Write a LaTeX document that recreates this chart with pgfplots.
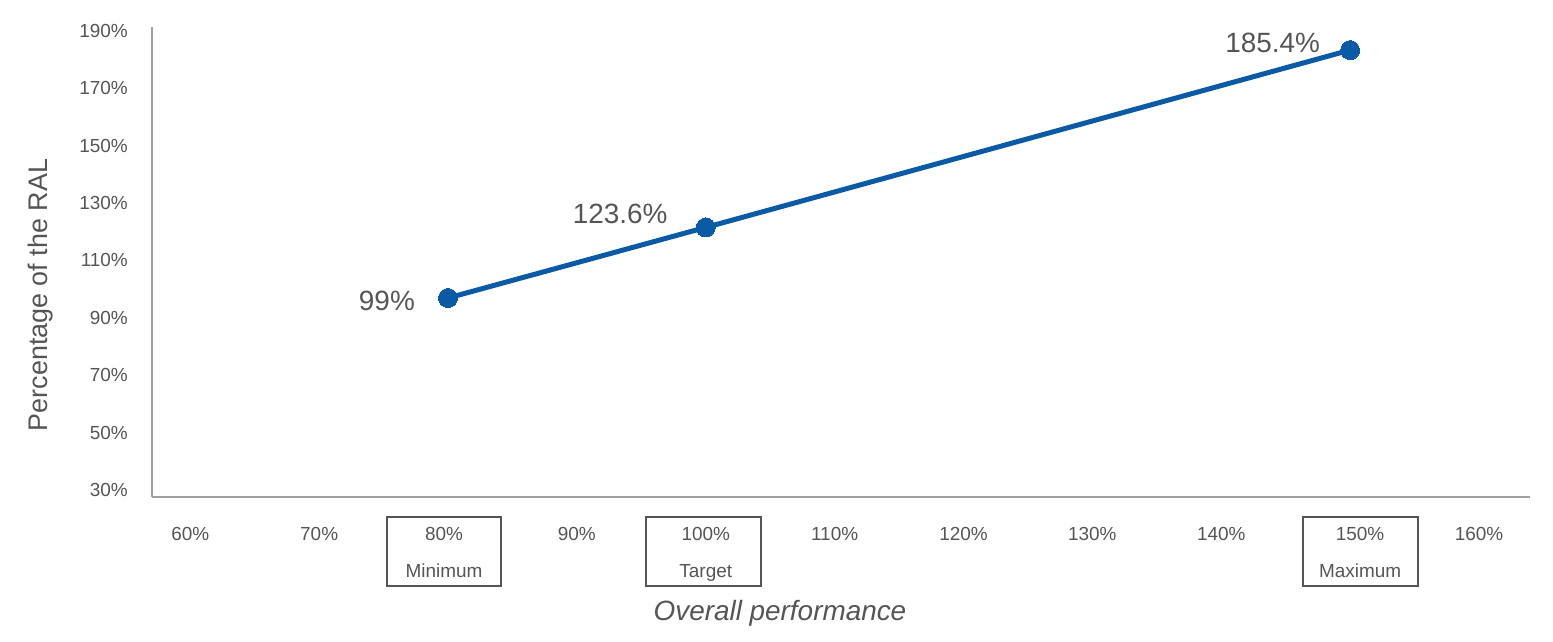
\documentclass[border=0pt]{standalone}
\usepackage{pgfplots}
\pgfplotsset{compat=1.18}
\usepackage{fontspec}
\setmainfont{Liberation Sans}
\definecolor{lineblue}{HTML}{0B5AA5}
\definecolor{axgray}{HTML}{A0A0A0}
\definecolor{txtgray}{HTML}{555555}
\definecolor{boxgray}{HTML}{555555}
\begin{document}
\begin{tikzpicture}
\useasboundingbox (0,0) rectangle (1553bp,642bp);
\begin{axis}[
  at={(152bp,145bp)}, anchor=south west,
  scale only axis, width=1378bp, height=470bp,
  xmin=57.03, xmax=163.96, ymin=29.65, ymax=193.45,
  axis lines=left, axis line style={-, axgray, line width=1.5bp},
  major tick length=0pt,
  clip=false,
  xtick={60,70,...,160},
  xticklabels={60\%,70\%,{\hspace*{-8bp}80\%\\\hspace*{-8bp}Minimum},90\%,{100\%\\Target},110\%,120\%,130\%,140\%,{\hspace*{20bp}150\%\\\hspace*{20bp}Maximum},160\%},
  ytick={30,50,...,190},
  yticklabels={30\%,50\%,70\%,90\%,110\%,130\%,150\%,170\%,190\%},
  xticklabel style={font=\fontsize{19}{37}\selectfont, text=txtgray, align=center, anchor=north, inner sep=0pt, yshift=-30bp},
  yticklabel style={font=\fontsize{19}{23}\selectfont, text=txtgray, anchor=east, inner sep=0pt, xshift=-24bp, yshift=6bp},
]
\addplot[lineblue, line width=5bp, mark=*, mark size=9.5bp, mark options={fill=lineblue, draw=lineblue, line width=0pt}]
  coordinates {(80,99) (100,123.6) (150,185.4)};

\node[anchor=east, inner sep=0pt, font=\fontsize{28}{32}\selectfont, text=txtgray, xshift=-33bp, yshift=-3bp] at (axis cs:80,99) {99\%};
\node[anchor=east, inner sep=0pt, font=\fontsize{28}{32}\selectfont, text=txtgray, xshift=-38bp, yshift=14bp] at (axis cs:100,123.6) {123.6\%};
\node[anchor=east, inner sep=0pt, font=\fontsize{28}{32}\selectfont, text=txtgray, xshift=-30bp, yshift=7bp] at (axis cs:150,185.4) {185.4\%};

\draw[boxgray, line width=1.5bp] (axis cs:80,29.65) ++(-61bp,-20bp) rectangle ++(114bp,-69bp);
\draw[boxgray, line width=1.5bp] (axis cs:100,29.65) ++(-60bp,-20bp) rectangle ++(115bp,-69bp);
\draw[boxgray, line width=1.5bp] (axis cs:150,29.65) ++(-47bp,-20bp) rectangle ++(115bp,-69bp);

\node[anchor=base, font=\fontsize{28}{32}\selectfont\itshape, text=txtgray] at (axis description cs:0.4557,-0.2617) {Overall performance};
\node[anchor=base, rotate=90, font=\fontsize{27}{32}\selectfont, text=txtgray] at (axis description cs:-0.0755,0.4298) {Percentage of the RAL};
\end{axis}
\end{tikzpicture}
\end{document}
